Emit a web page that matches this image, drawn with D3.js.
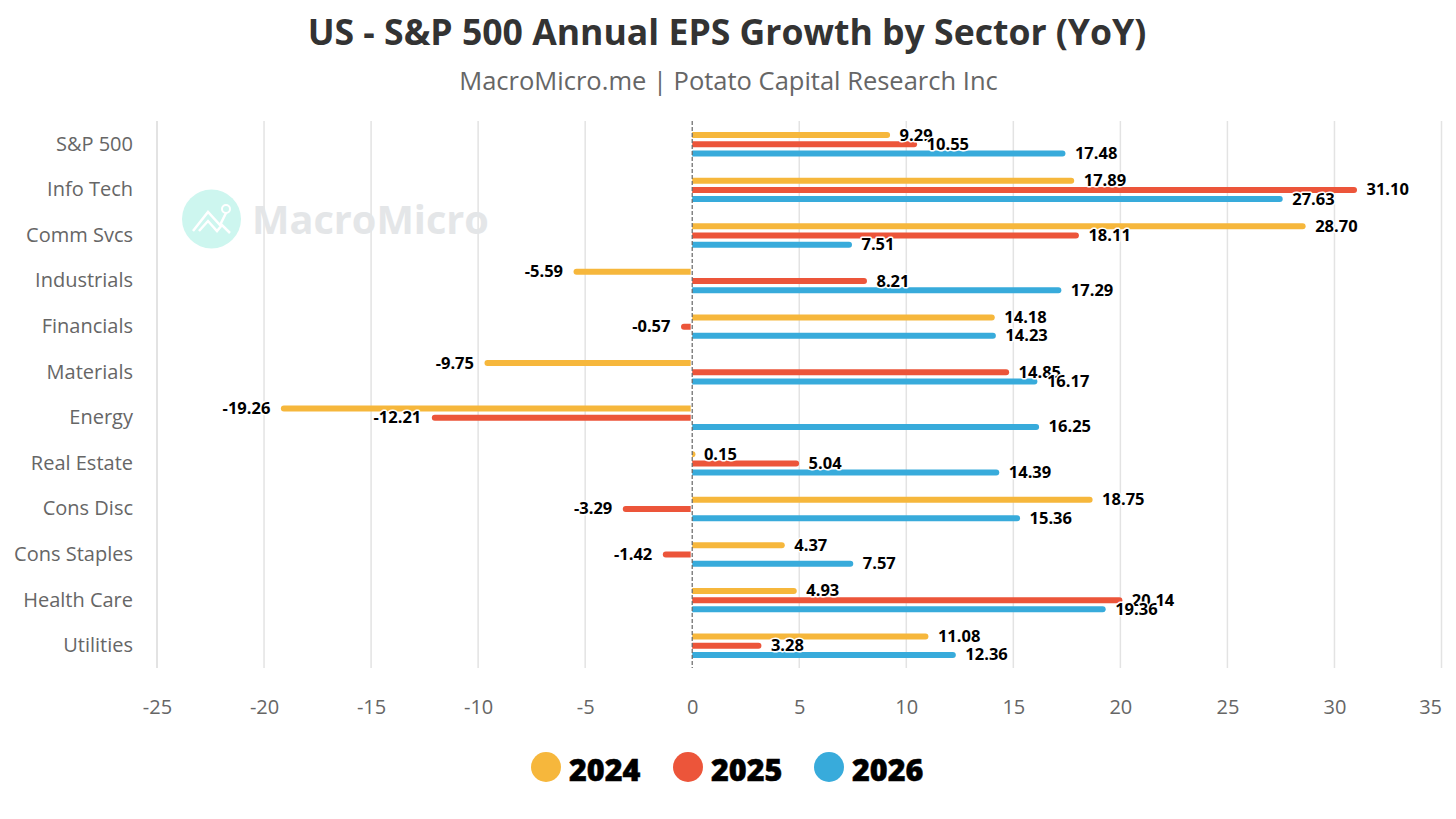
<!DOCTYPE html>
<html><head><meta charset="utf-8">
<script src="https://cdn.jsdelivr.net/npm/d3@7/dist/d3.min.js"></script>
<style>
html,body{margin:0;padding:0;background:#fff;overflow:hidden}
svg{display:block}
text{font-family:"Open Sans","Noto Sans",sans-serif}
</style></head><body>
<svg id="c" width="1456" height="819"></svg>
<script>
const sectors=["S&P 500","Info Tech","Comm Svcs","Industrials","Financials","Materials","Energy","Real Estate","Cons Disc","Cons Staples","Health Care","Utilities"];
const years=["2024","2025","2026"];
const colors=["#f6b73c","#ec553a","#38abdb"];
const v2024=[9.29,17.89,28.70,-5.59,14.18,-9.75,-19.26,0.15,18.75,4.37,4.93,11.08];
const v2025=[10.55,31.10,18.11,8.21,-0.57,14.85,-12.21,5.04,-3.29,-1.42,20.14,3.28];
const v2026=[17.48,27.63,7.51,17.29,14.23,16.17,16.25,14.39,15.36,7.57,19.36,12.36];
const xTicks=[-25,-20,-15,-10,-5,0,5,10,15,20,25,30,35];
const series=[v2024,v2025,v2026];

const svg=d3.select("#c");
const x=d3.scaleLinear().domain([-25,35]).range([157,1441.5]);
const y=d3.scaleBand().domain(sectors).range([121.5,668.5]);
const offs=d3.scaleBand().domain(years).range([-13.8,13.8]);
const barH=6;

// title
svg.append("text").attr("x",727).attr("y",45).attr("text-anchor","middle")
  .attr("font-size",35.6).attr("font-weight",700).attr("fill","#333").text("US - S&P 500 Annual EPS Growth by Sector (YoY)");
svg.append("text").attr("x",728.5).attr("y",90).attr("text-anchor","middle")
  .attr("font-size",25.5).attr("fill","#666").text("MacroMicro.me | Potato Capital Research Inc");

// grid
svg.append("g").selectAll("line").data(xTicks.filter(d=>d!==0)).join("line")
  .attr("x1",d=>x(d)).attr("x2",d=>x(d)).attr("y1",121).attr("y2",668)
  .attr("stroke","#e3e3e3").attr("stroke-width",d=>d===-25?2:1.5);

// watermark
const wm=svg.append("g");
wm.append("circle").attr("cx",211.5).attr("cy",219).attr("r",29.5).attr("fill","#cdf6ef");
wm.append("path").attr("d","M193 231L208 212L220 225L226 213M199 231L208 221L217 231L222 225L230 233")
  .attr("fill","none").attr("stroke","#fff").attr("stroke-width",2.5);
wm.append("circle").attr("cx",226).attr("cy",209).attr("r",4).attr("fill","none").attr("stroke","#fff").attr("stroke-width",2);
wm.append("text").attr("x",252).attr("y",234).attr("font-size",39.7).attr("font-weight",700).attr("fill","#e4e6e8").text("MacroMicro");

// bars
const rows=[];
series.forEach((vals,i)=>vals.forEach((v,j)=>rows.push({v,i,s:sectors[j],yr:years[i]})));
const cy=d=>y(d.s)+y.bandwidth()/2+offs(d.yr)+offs.bandwidth()/2;
const barPath=d=>{
  const s=d.v<0?-1:1;
  const x0=x(0)+(d.v<0?-1.5:0),x1=Math.abs(d.v)<0.3?x(d.v):x(d.v)-s,t=cy(d)-barH/2,b=cy(d)+barH/2;
  const r=Math.min(barH/2,Math.abs(x1-x0));
  const p=d3.path();
  p.moveTo(x0,t);p.lineTo(x1-s*r,t);
  p.quadraticCurveTo(x1,t,x1,t+r);
  p.lineTo(x1,b-r);
  p.quadraticCurveTo(x1,b,x1-s*r,b);
  p.lineTo(x0,b);p.closePath();
  return p.toString();
};
svg.append("g").selectAll("path").data(rows).join("path").attr("d",barPath).attr("fill",d=>colors[d.i]);

// zero line
svg.append("line").attr("x1",x(0)).attr("x2",x(0)).attr("y1",121).attr("y2",668)
  .attr("stroke","#666").attr("stroke-width",1.2).attr("stroke-dasharray","4,2");

// data labels
svg.append("g").selectAll("text").data(rows).join("text")
  .attr("x",d=>x(d.v)+(d.v<0?-9.5:8.5)).attr("y",d=>cy(d)+5.5)
  .attr("text-anchor",d=>d.v<0?"end":"start")
  .attr("font-size",16.5).attr("font-weight",700).attr("fill","#000")
  .attr("stroke","#fff").attr("stroke-width",3).attr("paint-order","stroke").attr("stroke-linejoin","round")
  .text(d=>d.v.toFixed(2));

// axes
const ax=svg.append("g").attr("transform","translate(0,668)").call(d3.axisBottom(x).tickValues(xTicks).tickFormat(d=>String(d)).tickSize(0).tickPadding(32));
ax.select(".domain").remove();
ax.selectAll("text").attr("font-size",20).attr("fill","#666").attr("font-family",'"Open Sans","Noto Sans",sans-serif');
ax.selectAll("text").filter(d=>d===35).attr("text-anchor","end");
const ay=svg.append("g").attr("transform","translate(133,0)").call(d3.axisLeft(y).tickSize(0).tickPadding(0));
ay.select(".domain").remove();
ay.selectAll("text").attr("font-size",20).attr("fill","#666").attr("font-family",'"Open Sans","Noto Sans",sans-serif');

// legend
const lx=[546,688,829];
const lg=svg.append("g").selectAll("g").data(years).join("g").attr("transform",(d,i)=>`translate(${lx[i]},767)`);
lg.append("circle").attr("r",15).attr("fill",(d,i)=>colors[i]);
lg.append("text").attr("x",23).attr("y",14).attr("font-size",30.5).attr("font-weight",800)
  .attr("fill","#000").attr("stroke","#000").attr("stroke-width",0.5).text(d=>d);
</script></body></html>
